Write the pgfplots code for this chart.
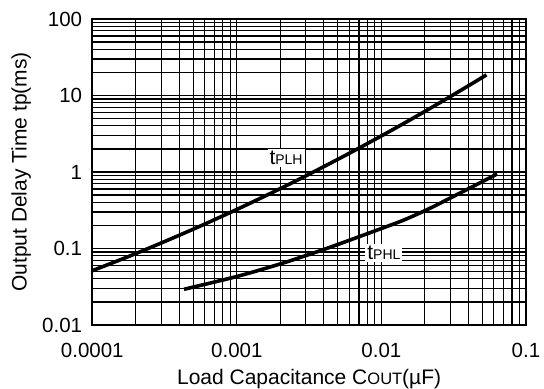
\documentclass[border=0pt]{standalone}
\usepackage{pgfplots}
\pgfplotsset{compat=1.18}
\usepackage{fontspec}
\setmainfont{Liberation Sans}
\begin{document}
\begin{tikzpicture}
\useasboundingbox (-92.3bp,-64bp) rectangle (451.7bp,325bp);
\begin{axis}[
  at={(0,0)}, anchor=south west,
  scale only axis, width=433.7bp, height=306bp,
  xmode=log, ymode=log,
  xmin=1e-4, xmax=0.1, ymin=0.01, ymax=100,
  xtick={0.0001,0.001,0.01,0.1},
  xticklabels={0.0001,0.001,0.01,0.1},
  ytick={0.01,0.1,1,10,100},
  yticklabels={0.01,0.1,1,10,100},
  minor xtick={0.0002,0.0003,0.0004,0.0005,0.0006,0.0007,0.0008,0.0009,
               0.002,0.003,0.004,0.005,0.006,0.007,0.008,0.009,
               0.02,0.03,0.04,0.05,0.06,0.07,0.08,0.09},
  minor ytick={0.02,0.03,0.04,0.05,0.06,0.07,0.08,0.09,
               0.2,0.3,0.4,0.5,0.6,0.7,0.8,0.9,
               2,3,4,5,6,7,8,9,
               20,30,40,50,60,70,80,90},
  grid=both,
  major grid style={black, line width=1.1bp},
  minor grid style={black, line width=1.1bp},
  axis line style={black, line width=1.6bp},
  major tick length=0pt, minor tick length=0pt,
  tick label style={font=\fontsize{20.5bp}{24bp}\selectfont},
  xticklabel style={inner sep=0pt, anchor=north, yshift=-18bp},
  yticklabel style={inner sep=0pt, anchor=east, xshift=-10bp},
  label style={font=\fontsize{21bp}{25bp}\selectfont},
  xlabel={Load Capacitance C{\fontsize{16.5bp}{18bp}\selectfont OUT}(µF)},
  ylabel={Output Delay Time tp(ms)},
  xlabel style={at={(axis description cs:0.5,-0.196)}, anchor=base},
  ylabel style={at={(axis description cs:-0.164,0.5)}, anchor=center},
]
% tPLH
\addplot[black, line width=3.6bp, smooth] coordinates {
  (0.0001,0.0513) (0.0001778,0.0785) (0.0003162,0.1232) (0.0005623,0.1977)
  (0.001,0.3243) (0.001778,0.5445) (0.003162,0.9365) (0.005623,1.648)
  (0.01,2.965) (0.01778,5.458) (0.03162,10.29) (0.0533,18.6)
};
% tPHL
\addplot[black, line width=3.6bp, smooth] coordinates {
  (0.000431,0.0293) (0.001,0.0431) (0.00209,0.0646) (0.00417,0.1)
  (0.00933,0.174) (0.01432,0.236) (0.02133,0.331) (0.0322,0.49) (0.0632,0.942)
};
\node[fill=white, inner sep=2bp, font=\fontsize{21bp}{24bp}\selectfont]
  at (axis cs:0.00219,1.52) {t{\fontsize{14bp}{16bp}\selectfont PLH}};
\node[fill=white, inner sep=2bp, font=\fontsize{21bp}{24bp}\selectfont]
  at (axis cs:0.0104,0.0873) {t{\fontsize{14bp}{16bp}\selectfont PHL}};
\end{axis}
\end{tikzpicture}
\end{document}
